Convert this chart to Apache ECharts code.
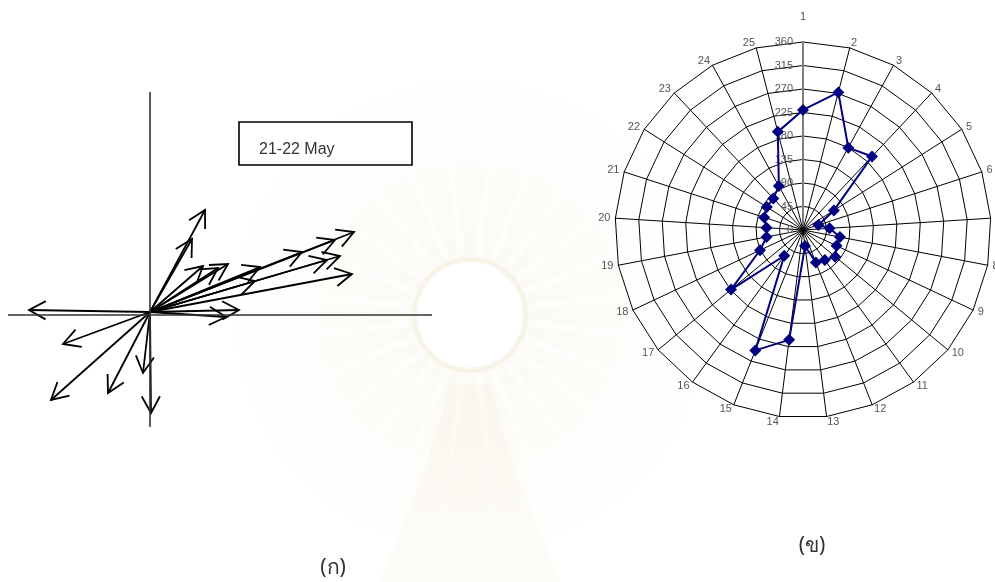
<!DOCTYPE html>
<html>
<head>
<meta charset="utf-8">
<script src="https://cdn.jsdelivr.net/npm/echarts@6/dist/echarts.min.js"></script>
<style>
  html, body { margin: 0; padding: 0; background: #ffffff; }
  #chart { width: 995px; height: 582px; }
</style>
</head>
<body>
<div id="chart"></div>
<script>
// (ก) current vectors, 21-22 May: east (u) and north (v) components
const vecU = [5.5, 4.2, 20.4, 18.5, 15.2, 19.0, 17.7, 20.2, 11.0, 7.8, 5.3, 6.8, 10.5, 8.9, 7.6, -12.1, -8.7, -9.9, -4.2, -0.7, 0.1];
const vecV = [10.2, 7.3, 8.0, 7.2, 6.0, 5.6, 5.2, 3.8, 4.5, 4.8, 4.6, 4.4, 3.1, 0.2, -0.5, 0.2, -3.2, -8.8, -8.1, -6.1, -10.1];

// (ข) direction (degrees) at each of the 25 stations
const stations = ['1','2','3','4','5','6','7','8','9','10','11','12','13','14','15','16','17','18','19','20','21','22','23','24','25'];
const directions = [230, 272, 180, 193, 70, 31, 51, 72, 71, 80, 71, 67, 31, 212, 248, 61, 179, 91, 71, 70, 78, 82, 83, 96, 194];
const ringTicks = [0, 45, 90, 135, 180, 225, 270, 315, 360];

const legendText = '21-22 May';

// radar runs counter-clockwise, so list station 1 first and the rest in reverse
const order = [0].concat(stations.map((_, i) => i).slice(1).reverse());
const indicator = order.map(i => ({ name: stations[i], min: ringTicks[0], max: ringTicks[ringTicks.length - 1] }));
indicator[0].axisLabel = { show: true, color: '#555', fontSize: 11, fontFamily: 'Liberation Sans', margin: 10 };
indicator[0].axisLine = { lineStyle: { color: '#7f7f7f', width: 2 } };
indicator[0].nameGap = 20;
const radarValues = order.map(i => directions[i]);

const vectorData = vecU.map((u, i) => [u, vecV[i]]);

const chart = echarts.init(document.getElementById('chart'), null, { renderer: 'canvas' });

function renderArrow(params, api) {
  const o = api.coord([0, 0]);
  const p = api.coord([api.value(0), api.value(1)]);
  const ang = Math.atan2(p[1] - o[1], p[0] - o[0]);
  const L = 19, a = 0.5;
  const h1 = [p[0] - L * Math.cos(ang - a), p[1] - L * Math.sin(ang - a)];
  const h2 = [p[0] - L * Math.cos(ang + a), p[1] - L * Math.sin(ang + a)];
  const style = { stroke: '#000', lineWidth: 1.8, fill: null };
  return {
    type: 'group',
    children: [
      { type: 'line', shape: { x1: o[0], y1: o[1], x2: p[0], y2: p[1] }, style },
      { type: 'polyline', shape: { points: [h1, p, h2] }, style }
    ]
  };
}

// faint emblem behind the plots: soft glow, broad rays, halo and base
const ECX = 470, ECY = 315;
const emblem = [];
emblem.push({
  type: 'circle', z: -20, silent: true, shape: { cx: ECX, cy: ECY, r: 270 },
  style: { fill: new echarts.graphic.RadialGradient(0.5, 0.5, 0.5, [
    { offset: 0, color: 'rgba(238,230,205,0.30)' },
    { offset: 0.5, color: 'rgba(240,234,215,0.16)' },
    { offset: 1, color: 'rgba(255,255,255,0)' }
  ]) }
});
for (let k = 0; k < 24; k++) {
  const t = (k / 24) * Math.PI * 2 + 0.13;
  const w = 0.07, r0 = 60, r1 = 250;
  emblem.push({
    type: 'polygon', z: -19, silent: true,
    shape: { points: [
      [ECX + r0 * Math.cos(t - w), ECY + r0 * Math.sin(t - w)],
      [ECX + r1 * Math.cos(t), ECY + r1 * Math.sin(t)],
      [ECX + r0 * Math.cos(t + w), ECY + r0 * Math.sin(t + w)]
    ] },
    style: { fill: 'rgba(255,255,255,0.55)' }
  });
}
emblem.push({
  type: 'circle', z: -18, silent: true, shape: { cx: ECX, cy: ECY, r: 55 },
  style: { fill: '#ffffff', stroke: 'rgba(232,222,190,0.28)', lineWidth: 5 }
});
emblem.push({
  type: 'polygon', z: -18, silent: true,
  shape: { points: [[450, 385], [490, 385], [515, 470], [560, 582], [380, 582], [425, 470]] },
  style: { fill: 'rgba(240,228,190,0.14)' }
});

const option = {
  backgroundColor: '#ffffff',
  animation: false,
  grid: { left: 8, right: 563, top: 92, bottom: 155 },
  xAxis: { type: 'value', min: -14.2, max: 28.2, show: false },
  yAxis: { type: 'value', min: -11.5, max: 22.0, show: false },
  radar: {
    center: [803, 230],
    radius: 188,
    startAngle: 90,
    splitNumber: 8,
    shape: 'polygon',
    indicator: indicator,
    nameGap: 5,
    axisName: { color: '#555', fontSize: 11, fontFamily: 'Liberation Sans' },
    splitLine: { lineStyle: { color: '#000', width: 1 } },
    splitArea: { show: false },
    axisLine: { lineStyle: { color: '#000', width: 1 } },
    axisTick: { show: false },
    axisLabel: { show: false }
  },
  graphic: {
    elements: emblem.concat([
      { type: 'rect', z: 5, shape: { x: 239, y: 122, width: 173, height: 43 },
        style: { fill: '#fff', stroke: '#000', lineWidth: 1.6 } },
      { type: 'text', z: 6, x: 259, y: 150,
        style: { text: legendText, fill: '#333', font: '16px "Liberation Sans"', verticalAlign: 'middle' } },
      { type: 'text', z: 6, x: 333, y: 568,
        style: { text: '(ก)', fill: '#333', font: '21px "Noto Sans", "DejaVu Sans", sans-serif', align: 'center', verticalAlign: 'middle' } },
      { type: 'text', z: 6, x: 812, y: 546,
        style: { text: '(ข)', fill: '#333', font: '21px "Noto Sans", "DejaVu Sans", sans-serif', align: 'center', verticalAlign: 'middle' } }
    ])
  },
  series: [
    {
      type: 'line',
      data: [],
      silent: true,
      markLine: {
        silent: true,
        symbol: 'none',
        label: { show: false },
        lineStyle: { color: '#333', width: 1.6, type: 'solid' },
        data: [{ yAxis: -0.25 }, { xAxis: 0 }]
      }
    },
    {
      type: 'custom',
      renderItem: renderArrow,
      data: vectorData,
      silent: true,
      z: 3
    },
    {
      type: 'radar',
      symbol: 'diamond',
      symbolSize: 12,
      lineStyle: { color: '#000080', width: 2 },
      itemStyle: { color: '#000080' },
      data: [{ value: radarValues }],
      z: 4
    }
  ]
};

chart.setOption(option);
</script>
</body>
</html>
